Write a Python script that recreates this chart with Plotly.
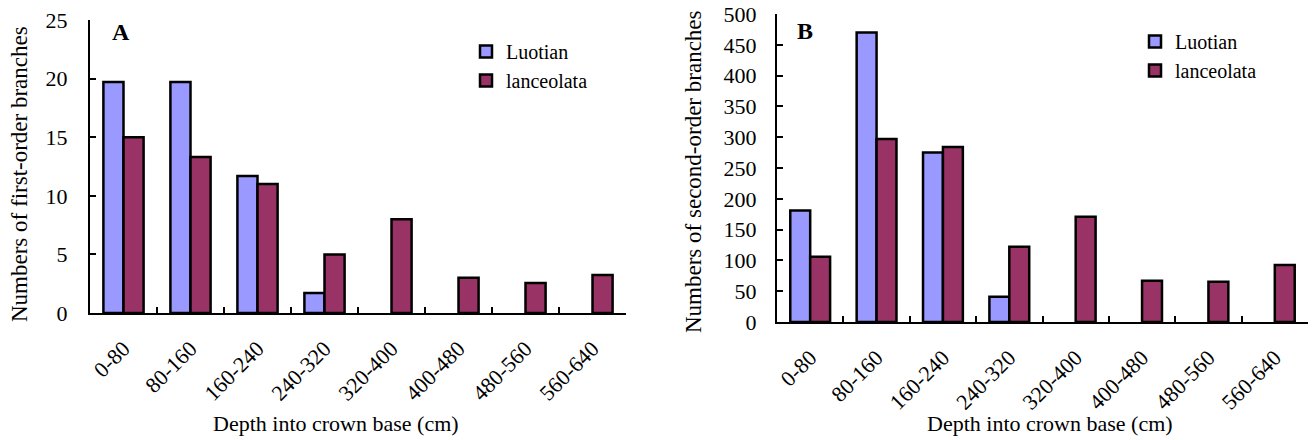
import plotly.graph_objects as go

categories = ["0-80", "80-160", "160-240", "240-320", "320-400", "400-480", "480-560", "560-640"]
series_names = ["Luotian", "lanceolata"]

# None = no bar drawn in the reference for that depth class
first_luotian = [19.7, 19.7, 11.7, 1.7, None, None, None, None]
first_lanceolata = [15.0, 13.3, 11.0, 5.0, 8.0, 3.0, 2.55, 3.25]

second_luotian = [181, 470, 275, 41, None, None, None, None]
second_lanceolata = [106, 297, 284, 122, 171, 67, 65.5, 92.5]

x_title = "Depth into crown base (cm)"
y_title_a = "Numbers of first-order branches"
y_title_b = "Numbers of second-order branches"

colors = ["#9999FF", "#993366"]
FONT = "Liberation Serif, Times New Roman, serif"
W, H = 1312, 440

fig = go.Figure()

for name, vals, col in zip(series_names, [first_luotian, first_lanceolata], colors):
    fig.add_trace(go.Bar(x=categories, y=vals, name=name,
                         marker=dict(color=col, line=dict(color="black", width=2.5)),
                         xaxis="x", yaxis="y", legend="legend"))
for name, vals, col in zip(series_names, [second_luotian, second_lanceolata], colors):
    fig.add_trace(go.Bar(x=categories, y=vals, name=name,
                         marker=dict(color=col, line=dict(color="black", width=2.5)),
                         xaxis="x2", yaxis="y2", legend="legend2"))

axis_common = dict(showline=True, linecolor="black", linewidth=2, showgrid=False, zeroline=False,
                   ticks="inside", ticklen=6, tickwidth=1.5, tickcolor="black", automargin=False,
                   tickfont=dict(family=FONT, size=22, color="black"))


def px_x(v):
    return v / W


def px_y(v):
    return 1 - v / H


fig.update_layout(
    width=W, height=H,
    margin=dict(l=0, r=0, t=0, b=0, pad=0),
    plot_bgcolor="white", paper_bgcolor="white",
    font=dict(family=FONT, size=22, color="black"),
    barmode="group", bargap=0.4, bargroupgap=0,
    xaxis=dict(domain=[px_x(90), px_x(626)], anchor="y", tickson="boundaries", tickangle=-45,
               ticklabelstandoff=12, **axis_common),
    yaxis=dict(domain=[px_y(313), px_y(20)], anchor="x", range=[0, 25], dtick=5,
               ticklabelstandoff=16, **axis_common),
    xaxis2=dict(domain=[px_x(777), px_x(1308)], anchor="y2", tickson="boundaries", tickangle=-45,
                ticklabelstandoff=12, **axis_common),
    yaxis2=dict(domain=[px_y(322), px_y(14)], anchor="x2", range=[0, 500], dtick=50,
                ticklabelstandoff=14, **axis_common),
    legend=dict(x=px_x(466), y=px_y(32), xanchor="left", yanchor="top", bgcolor="rgba(0,0,0,0)",
                font=dict(family=FONT, size=20, color="black"), itemwidth=30, tracegroupgap=0),
    legend2=dict(x=px_x(1135), y=px_y(22), xanchor="left", yanchor="top", bgcolor="rgba(0,0,0,0)",
                 font=dict(family=FONT, size=20, color="black"), itemwidth=30, tracegroupgap=0),
    annotations=[
        dict(text="<b>A</b>", x=px_x(121), y=px_y(32), xref="paper", yref="paper", showarrow=False,
             xanchor="center", yanchor="middle", font=dict(family=FONT, size=24, color="black")),
        dict(text="<b>B</b>", x=px_x(805), y=px_y(31), xref="paper", yref="paper", showarrow=False,
             xanchor="center", yanchor="middle", font=dict(family=FONT, size=24, color="black")),
        dict(text=x_title, x=px_x(336), y=px_y(423), xref="paper", yref="paper", showarrow=False,
             xanchor="center", yanchor="middle", font=dict(family=FONT, size=22, color="black")),
        dict(text=x_title, x=px_x(1050), y=px_y(423), xref="paper", yref="paper", showarrow=False,
             xanchor="center", yanchor="middle", font=dict(family=FONT, size=22, color="black")),
        dict(text=y_title_a, x=px_x(19), y=px_y(174), xref="paper", yref="paper", showarrow=False,
             textangle=-90, xanchor="center", yanchor="middle", font=dict(family=FONT, size=23, color="black")),
        dict(text=y_title_b, x=px_x(694), y=px_y(172), xref="paper", yref="paper", showarrow=False,
             textangle=-90, xanchor="center", yanchor="middle", font=dict(family=FONT, size=23, color="black")),
    ],
)

fig.write_html("out.html", config={"displayModeBar": False},
               post_script="document.body.style.margin='0';document.body.style.overflow='hidden';")
